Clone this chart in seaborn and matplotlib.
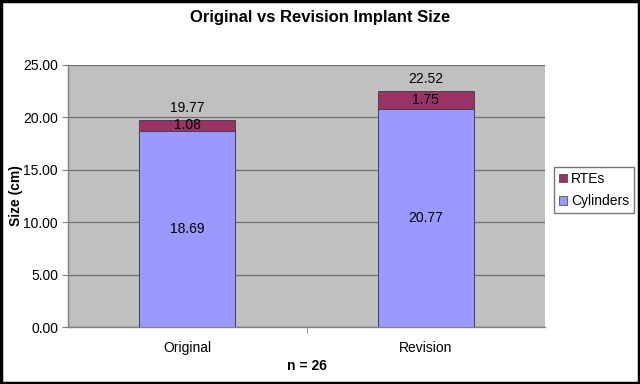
import matplotlib
matplotlib.use("Agg")
import matplotlib.pyplot as plt
import seaborn as sns
import pandas as pd
from matplotlib.patches import Patch

# Data
groups = ["Original", "Revision"]
cylinders = [18.69, 20.77]
rtes = [1.08, 1.75]
totals = [19.77, 22.52]

df = pd.DataFrame({"group": groups, "Cylinders": cylinders, "RTEs": rtes, "Total": totals})

sns.set_style("white")
plt.rcParams["font.family"] = ["Liberation Sans", "DejaVu Sans"]
plt.rcParams["text.color"] = "black"
plt.rcParams["axes.labelcolor"] = "black"

fig = plt.figure(figsize=(6.4, 3.84), dpi=100)
ax = fig.add_axes([0.106, 0.148, 0.746, 0.683])
ax.set_facecolor("#C0C0C0")

# stacked: total bar (RTE colour) underneath, cylinders on top of it
sns.barplot(data=df, x="group", y="Total", color="#993366", width=0.4,
            edgecolor="#3a3a3a", linewidth=0.6, saturation=1, ax=ax, zorder=3)
sns.barplot(data=df, x="group", y="Cylinders", color="#9999FF", width=0.4,
            edgecolor="#3a3a3a", linewidth=0.6, saturation=1, ax=ax, zorder=4)

fs = 10
for i in range(len(groups)):
    ax.text(i, cylinders[i] / 2, f"{cylinders[i]:.2f}", ha="center", va="center", fontsize=fs, zorder=5)
    ax.text(i, cylinders[i] + rtes[i] / 2, f"{rtes[i]:.2f}", ha="center", va="center", fontsize=fs, zorder=5)
    ax.text(i, totals[i] + 0.5, f"{totals[i]:.2f}", ha="center", va="bottom", fontsize=fs, zorder=5)

ax.set_ylim(0, 25)
ax.set_xlim(-0.5, 1.5)
ax.set_yticks([0, 5, 10, 15, 20, 25])
ax.set_yticklabels([f"{v:.2f}" for v in [0, 5, 10, 15, 20, 25]], fontsize=fs)
ax.tick_params(axis="x", labelsize=fs, length=0, pad=10, labelcolor="black")
ax.tick_params(axis="y", length=4, color="#808080", direction="out", left=True, pad=3, labelcolor="black")
ax.set_xticks([0.5], minor=True)
ax.tick_params(axis="x", which="minor", length=4, color="#808080", direction="out", bottom=True)
ax.yaxis.grid(True, color="#6e6e6e", linewidth=0.9, zorder=1)
ax.set_axisbelow(True)
for s in ["top", "right"]:
    ax.spines[s].set_visible(False)
for s in ["left", "bottom"]:
    ax.spines[s].set_color("#808080")
    ax.spines[s].set_linewidth(1)

ax.set_ylabel("Size (cm)", fontsize=fs, fontweight="bold", labelpad=0)
ax.set_xlabel("n = 26", fontsize=fs, fontweight="bold", labelpad=3)
fig.suptitle("Original vs Revision Implant Size", fontsize=12, fontweight="bold", y=0.975)

handles = [Patch(facecolor="#993366", edgecolor="#3a3a3a", linewidth=0.5, label="RTEs"),
           Patch(facecolor="#9999FF", edgecolor="#3a3a3a", linewidth=0.5, label="Cylinders")]
fig.legend(handles=handles, loc="center left", bbox_to_anchor=(0.866, 0.505),
           fontsize=fs, frameon=True, fancybox=False, edgecolor="#555555",
           handlelength=0.55, handleheight=0.55, handletextpad=0.3, borderpad=0.35,
           labelspacing=0.6, borderaxespad=0)

# black frame around the whole picture
fig.patches.append(plt.Rectangle((0.002, 0.003), 0.996, 0.994, transform=fig.transFigure,
                                 fill=False, edgecolor="black", linewidth=2.5))

fig.savefig("out.png", dpi=100, facecolor="white")
